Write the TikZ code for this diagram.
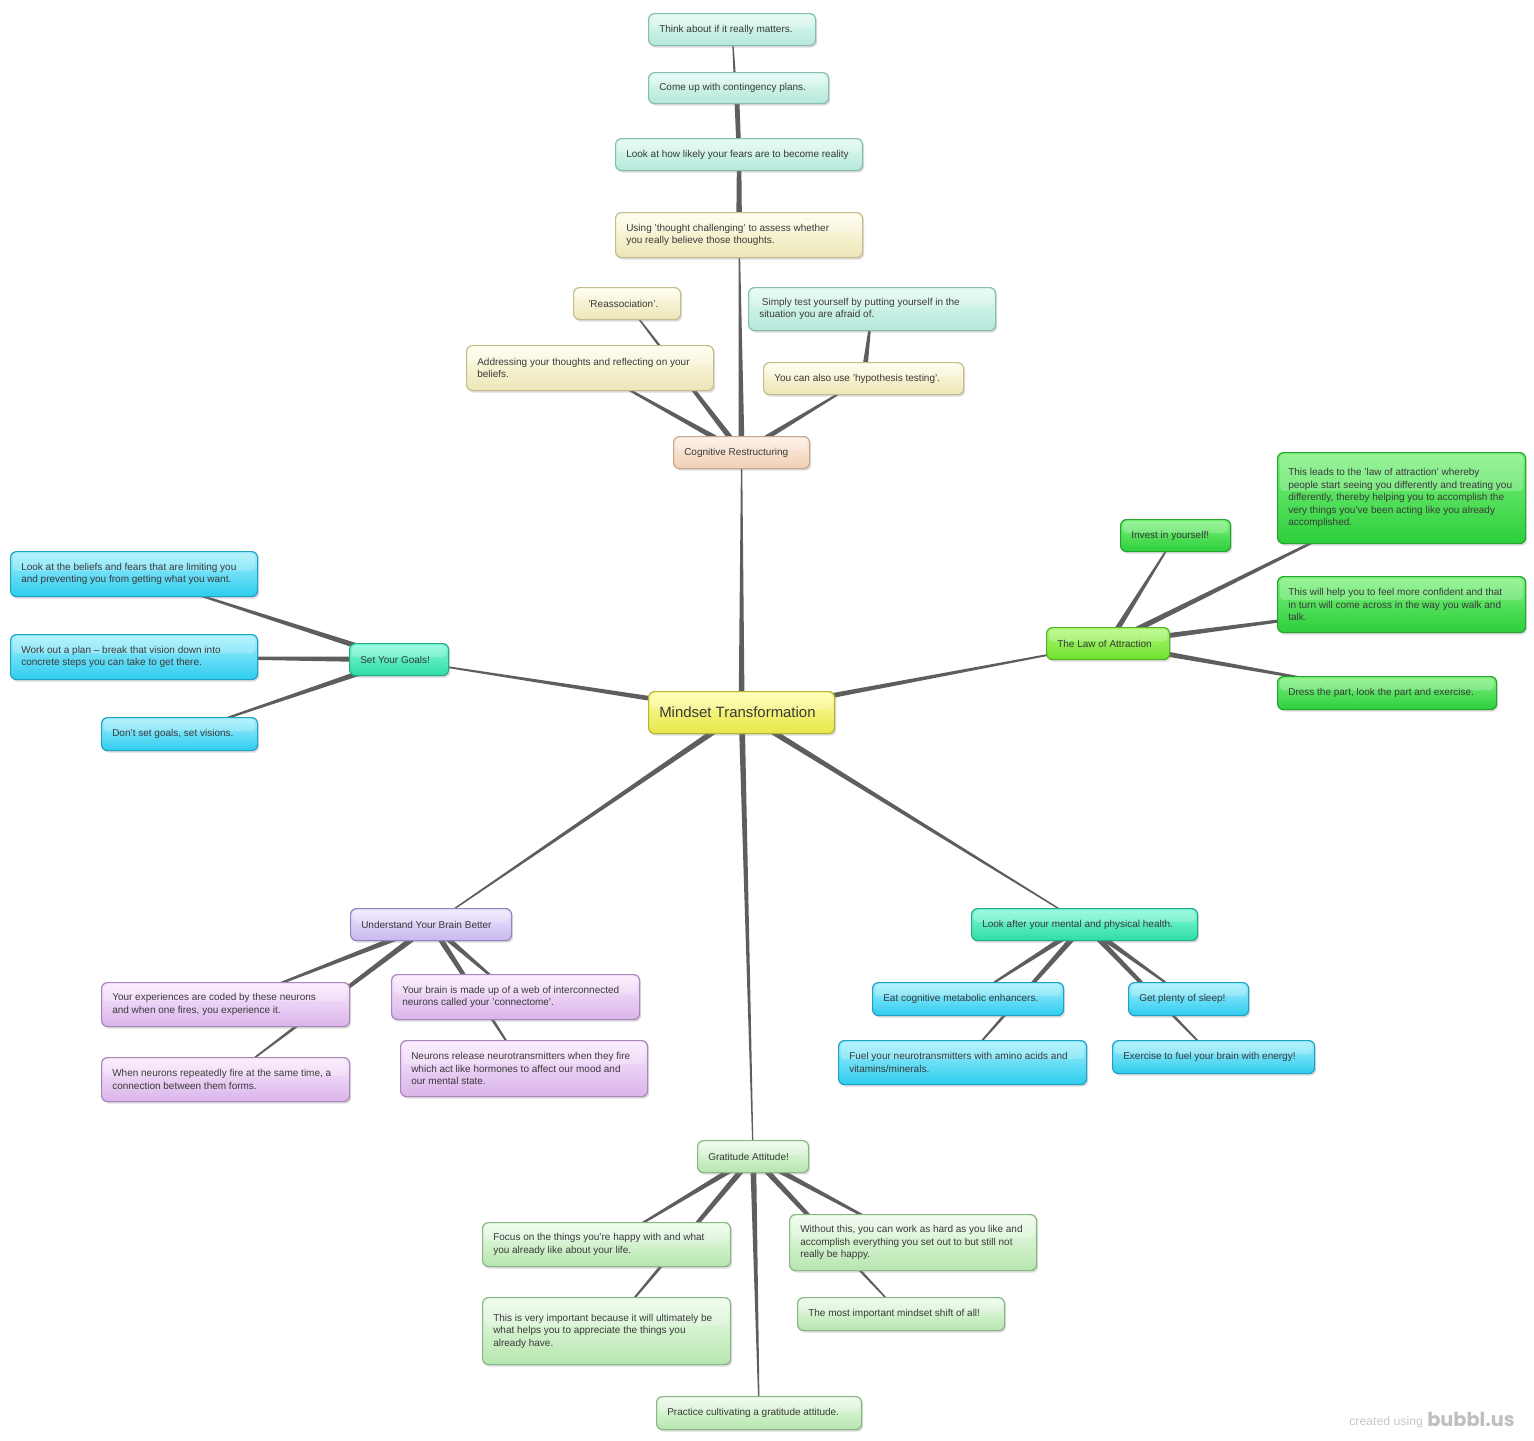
\documentclass[tikz,border=0pt]{standalone}
\usepackage{fontspec}
\setmainfont{Liberation Sans}
\newfontfamily\logofont{Poppins}
\usetikzlibrary{calc,shadows}
\pgfdeclarelayer{background}
\pgfsetlayers{background,main}
\definecolor{mintT}{HTML}{E2FAF3}\definecolor{mintB}{HTML}{B4E8DA}\definecolor{mintD}{HTML}{86BDAE}
\definecolor{creamT}{HTML}{FFFEEC}\definecolor{creamB}{HTML}{ECE6B6}\definecolor{creamD}{HTML}{C4BC8E}
\definecolor{peachT}{HTML}{FDEEE2}\definecolor{peachB}{HTML}{F0D0B6}\definecolor{peachD}{HTML}{C8A68C}
\definecolor{greenT}{HTML}{7CF27C}\definecolor{greenB}{HTML}{2CCE3C}\definecolor{greenD}{HTML}{25A530}
\definecolor{limeT}{HTML}{B0FA78}\definecolor{limeB}{HTML}{6EE02C}\definecolor{limeD}{HTML}{58B025}
\definecolor{cyanT}{HTML}{A4F0FE}\definecolor{cyanB}{HTML}{2ECCEE}\definecolor{cyanD}{HTML}{1EA2C2}
\definecolor{tealT}{HTML}{82FADA}\definecolor{tealB}{HTML}{30DCA6}\definecolor{tealD}{HTML}{24AC84}
\definecolor{yelT}{HTML}{FFFFA8}\definecolor{yelB}{HTML}{E6E648}\definecolor{yelD}{HTML}{B2B23C}
\definecolor{lavT}{HTML}{EEE8FE}\definecolor{lavB}{HTML}{C8B8F0}\definecolor{lavD}{HTML}{9484BE}
\definecolor{pinkT}{HTML}{FBEAFE}\definecolor{pinkB}{HTML}{D9B4EA}\definecolor{pinkD}{HTML}{A886B8}
\definecolor{paleT}{HTML}{EEFCEC}\definecolor{paleB}{HTML}{B6E6AE}\definecolor{paleD}{HTML}{88B684}
\definecolor{conC}{HTML}{5E5E5E}
\definecolor{txtC}{HTML}{3A3A3A}
\tikzset{
  box/.style={rounded corners=4.5pt, line width=0.9pt,
    drop shadow={shadow xshift=1.2pt, shadow yshift=-1.5pt, opacity=0.28},
    path picture={\fill[white,opacity=0.22,rounded corners=3pt]
      ([xshift=1.8pt,yshift=-1.4pt]path picture bounding box.north west) rectangle
      ($([xshift=-1.8pt]path picture bounding box.north east)!0.42!([xshift=-1.8pt]path picture bounding box.south east)$);}},
  txt/.style={align=left, inner sep=0pt, text=txtC, font=\fontsize{7.5}{9.4}\selectfont},
  con/.style={fill=conC},
  cMint/.style={top color=mintT, bottom color=mintB, draw=mintD},
  cCream/.style={top color=creamT, bottom color=creamB, draw=creamD},
  cPeach/.style={top color=peachT, bottom color=peachB, draw=peachD},
  cGreen/.style={top color=greenT, bottom color=greenB, draw=greenD},
  cLime/.style={top color=limeT, bottom color=limeB, draw=limeD},
  cCyan/.style={top color=cyanT, bottom color=cyanB, draw=cyanD},
  cTeal/.style={top color=tealT, bottom color=tealB, draw=tealD},
  cYellow/.style={top color=yelT, bottom color=yelB, draw=yelD},
  cLav/.style={top color=lavT, bottom color=lavB, draw=lavD},
  cPink/.style={top color=pinkT, bottom color=pinkB, draw=pinkD},
  cPale/.style={top color=paleT, bottom color=paleB, draw=paleD},
}
\newcommand\bx[7]{%
  \pgfmathsetmacro\bxw{(#5-#3)*0.75}%
  \pgfmathsetmacro\bxh{(#6-#4)*0.75}%
  \node[box,#2,minimum width=\bxw pt,minimum height=\bxh pt,anchor=north west,inner sep=0pt] (#1) at (#3,#4) {};
  \node[txt,anchor=west] (#1-t) at ([xshift=8.25pt]#1.west) {#7};
}
\newcommand\conw[4]{\fill[con] ($(#1)!#3!90:(#2)$) -- ($(#1)!#3!-90:(#2)$) -- ($(#2)!#4!90:(#1)$) -- ($(#2)!#4!-90:(#1)$) -- cycle;}
\newcommand\con[2]{\conw{#1}{#2}{2.25pt}{0.4pt}}
\begin{document}
\begin{tikzpicture}[x=0.75pt,y=-0.75pt]
\useasboundingbox (0,0) rectangle (1534,1440);
% cognitive branch
\bx{think}{cMint}{648}{13}{815}{45}{Think about if it really matters.}
\bx{contin}{cMint}{648}{72}{828}{103}{Come up with contingency plans.}
\bx{likely}{cMint}{615}{138}{862}{170}{Look at how likely your fears are to become reality}
\bx{using}{cCream}{615}{212}{862}{257}{Using 'thought challenging' to assess whether\\you really believe those thoughts.}
\bx{reas}{cCream}{573}{287}{680}{319}{\hspace{3pt}'Reassociation'.}
\bx{simply}{cMint}{748}{287}{995}{330}{\hspace{2pt}Simply test yourself by putting yourself in the\\situation you are afraid of.}
\bx{addr}{cCream}{466}{345}{713}{390}{Addressing your thoughts and reflecting on your\\beliefs.}
\bx{hyp}{cCream}{763}{362}{963}{394}{You can also use 'hypothesis testing'.}
\bx{cog}{cPeach}{673}{436}{809}{468}{Cognitive Restructuring}
% law of attraction
\bx{leads}{cGreen}{1277}{452}{1525}{543}{This leads to the 'law of attraction' whereby\\people start seeing you differently and treating you\\differently, thereby helping you to accomplish the\\very things you've been acting like you already\\accomplished.}
\bx{invest}{cGreen}{1120}{519}{1230}{551}{Invest in yourself!}
\bx{law}{cLime}{1046}{627}{1169}{659}{The Law of Attraction}
\bx{help}{cGreen}{1277}{576}{1525}{632}{This will help you to feel more confident and that\\in turn will come across in the way you walk and\\talk.}
\bx{dress}{cGreen}{1277}{676}{1496}{709}{Dress the part, look the part and exercise.}
% goals
\bx{beliefs}{cCyan}{10}{551}{257}{596}{Look at the beliefs and fears that are limiting you\\and preventing you from getting what you want.}
\bx{plan}{cCyan}{10}{634}{257}{679}{Work out a plan – break that vision down into\\concrete steps you can take to get there.}
\bx{goals}{cTeal}{349}{643}{448}{675}{Set Your Goals!}
\bx{visions}{cCyan}{101}{717}{257}{750}{Don't set goals, set visions.}
% centre
\bx{m}{cYellow}{648}{691}{834}{733}{{\fontsize{11.2}{13}\selectfont Mindset Transformation}}
% brain
\bx{brain}{cLav}{350}{908}{511}{940}{Understand Your Brain Better}
\bx{exper}{cPink}{101}{982}{349}{1026}{Your experiences are coded by these neurons\\and when one fires, you experience it.}
\bx{web}{cPink}{391}{974}{639}{1019}{Your brain is made up of a web of interconnected\\neurons called your 'connectome'.}
\bx{whenn}{cPink}{101}{1057}{349}{1101}{When neurons repeatedly fire at the same time, a\\connection between them forms.}
\bx{neur}{cPink}{400}{1040}{647}{1096}{Neurons release neurotransmitters when they fire\\which act like hormones to affect our mood and\\our mental state.}
% health
\bx{health}{cTeal}{971}{908}{1197}{940}{Look after your mental and physical health.}
\bx{eat}{cCyan}{872}{982}{1063}{1015}{Eat cognitive metabolic enhancers.}
\bx{sleep}{cCyan}{1128}{982}{1248}{1015}{Get plenty of sleep!}
\bx{fuel}{cCyan}{838}{1040}{1086}{1084}{Fuel your neurotransmitters with amino acids and\\vitamins/minerals.}
\bx{exer}{cCyan}{1112}{1040}{1314}{1073}{Exercise to fuel your brain with energy!}
% gratitude
\bx{grat}{cPale}{697}{1140}{808}{1172}{Gratitude Attitude!}
\bx{focus}{cPale}{482}{1222}{730}{1266}{Focus on the things you're happy with and what\\you already like about your life.}
\bx{without}{cPale}{789}{1214}{1036}{1270}{Without this, you can work as hard as you like and\\accomplish everything you set out to but still not\\really be happy.}
\bx{imp}{cPale}{482}{1297}{730}{1364}{This is very important because it will ultimately be\\what helps you to appreciate the things you\\already have.}
\bx{most}{cPale}{797}{1297}{1004}{1330}{The most important mindset shift of all!}
\bx{practice}{cPale}{656}{1396}{861}{1429}{Practice cultivating a gratitude attitude.}
% footer
\node[anchor=base west, inner sep=0pt, text=black!22, font=\fontsize{9.2}{11}\selectfont] (foot1) at (1349,1425) {created using};
\node[anchor=base west, inner sep=0pt, text=black!25, font=\logofont\bfseries\fontsize{14.5}{15}\selectfont] (foot2) at (1427,1426) {bubbl.us};
% connectors
\begin{pgfonlayer}{background}
\fill[white] (0,0) rectangle (1534,1440);
\con{m}{cog}\con{m}{goals}\con{m}{law}\con{m}{brain}\con{m}{health}\con{m}{grat}
\con{cog}{using}\con{cog}{addr}\con{cog}{reas}\con{cog}{hyp}
\con{hyp}{simply}\conw{using}{likely}{2.2pt}{1.6pt}
\conw{likely}{contin}{1.6pt}{0.3pt}\conw{likely}{think}{1.8pt}{0.3pt}
\con{goals}{beliefs}\con{goals}{plan}\con{goals}{visions}
\con{law}{invest}\con{law}{leads}\con{law}{help}\con{law}{dress}
\con{brain}{exper}\con{brain}{web}\con{brain}{whenn}\con{brain}{neur}
\con{health}{eat}\con{health}{sleep}\con{health}{fuel}\con{health}{exer}
\con{grat}{focus}\con{grat}{without}\con{grat}{imp}\con{grat}{most}\con{grat}{practice}
\end{pgfonlayer}
\end{tikzpicture}
\end{document}
